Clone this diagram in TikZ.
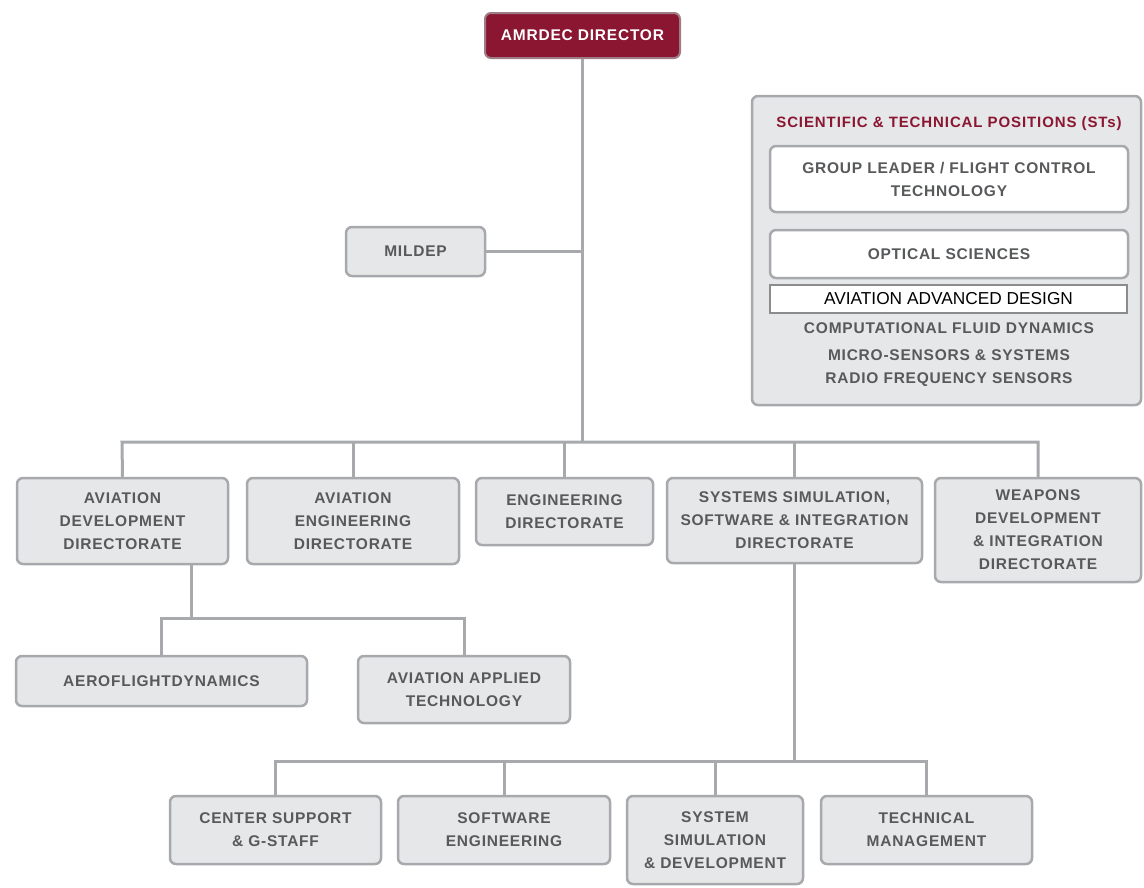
\documentclass[tikz,border=0pt]{standalone}
\usepackage{fontspec}
\setmainfont{Liberation Sans}
\newfontfamily\boxfont[LetterSpace=5]{Liberation Sans}
\newfontfamily\titlefont[LetterSpace=6]{Liberation Sans}
\definecolor{maroon}{RGB}{138,22,50}
\definecolor{boxfill}{RGB}{230,231,232}
\definecolor{boxedge}{RGB}{167,169,172}
\definecolor{txt}{RGB}{88,89,91}
\definecolor{aadedge}{RGB}{140,140,140}
\tikzset{
  orgbox/.style={draw=boxedge, fill=boxfill, line width=2.5pt, rounded corners=6pt,
    align=center, text=txt, font=\boxfont\fontsize{15.5}{23}\selectfont\bfseries, inner sep=2pt},
  whitebox/.style={orgbox, fill=white},
  dirbox/.style={draw=boxedge!70!maroon, fill=maroon, line width=2pt, rounded corners=6pt,
    text=white, font=\boxfont\fontsize{15.5}{23}\selectfont\bfseries},
  aadbox/.style={draw=aadedge, fill=white, line width=2.5pt, text=black,
    font=\fontsize{17.3}{20}\selectfont},
  sttext/.style={text=txt, font=\boxfont\fontsize{15.5}{23}\selectfont\bfseries},
  conn/.style={draw=boxedge, line width=3pt}
}
\begin{document}
\begin{tikzpicture}[x=1pt, y=-1pt]
\useasboundingbox (0,0) rectangle (1144,887);
% top
\node[dirbox, minimum width=195pt, minimum height=45pt] (dir) at (582.5,35.5) {AMRDEC DIRECTOR};
\node[orgbox, minimum width=139pt, minimum height=49pt] (mildep) at (415.5,251.5) {MILDEP};
% STs panel
\node[orgbox, minimum width=389pt, minimum height=309pt] (sts) at (946.5,250.5) {};
\node[sttext, text=maroon, font=\titlefont\fontsize{15}{18}\selectfont\bfseries] (ststitle) at (949,124) {SCIENTIFIC \& TECHNICAL POSITIONS (STs)};
\node[whitebox, minimum width=358pt, minimum height=66pt] (gl) at (949,179) {GROUP LEADER / FLIGHT CONTROL\\TECHNOLOGY};
\node[whitebox, minimum width=358pt, minimum height=48pt] (opt) at (949,254) {OPTICAL SCIENCES};
\node[aadbox, minimum width=357pt, minimum height=28pt, inner sep=0pt] (aad) at (948.5,299) {AVIATION ADVANCED DESIGN};
\node[sttext] (cfd) at (949,328) {COMPUTATIONAL FLUID DYNAMICS};
\node[sttext] (msens) at (949,355) {MICRO-SENSORS \& SYSTEMS};
\node[sttext] (rfs) at (949,380) {RADIO FREQUENCY SENSORS};
% second row
\node[orgbox, minimum width=211pt, minimum height=86pt] (avd) at (122.5,521) {AVIATION\\DEVELOPMENT\\DIRECTORATE};
\node[orgbox, minimum width=212pt, minimum height=86pt] (ave) at (353,521) {AVIATION\\ENGINEERING\\DIRECTORATE};
\node[orgbox, minimum width=177pt, minimum height=67pt] (eng) at (564.5,511.5) {ENGINEERING\\DIRECTORATE};
\node[orgbox, minimum width=255pt, minimum height=85pt] (sss) at (794.5,520.5) {SYSTEMS SIMULATION,\\SOFTWARE \& INTEGRATION\\DIRECTORATE};
\node[orgbox, minimum width=206pt, minimum height=104pt] (wpn) at (1038,530) {WEAPONS\\DEVELOPMENT\\\& INTEGRATION\\DIRECTORATE};
% third row
\node[orgbox, minimum width=291pt, minimum height=50pt] (aero) at (161.5,681) {AEROFLIGHTDYNAMICS};
\node[orgbox, minimum width=212pt, minimum height=67pt] (aat) at (464,689.5) {AVIATION APPLIED\\TECHNOLOGY};
% bottom row
\node[orgbox, minimum width=211pt, minimum height=68pt] (cs) at (275.5,830) {CENTER SUPPORT\\\& G-STAFF};
\node[orgbox, minimum width=212pt, minimum height=68pt] (sw) at (504,830) {SOFTWARE\\ENGINEERING};
\node[orgbox, minimum width=176pt, minimum height=88pt] (ssd) at (715,840) {SYSTEM\\SIMULATION\\\& DEVELOPMENT};
\node[orgbox, minimum width=211pt, minimum height=68pt] (tm) at (926.5,830) {TECHNICAL\\MANAGEMENT};
% bus coordinates
\coordinate (busL) at (122,442);
\coordinate (busR) at (1038,442);
\coordinate (subL) at (161.5,618);
\coordinate (subR) at (464,618);
\coordinate (botL) at (275.5,761);
\coordinate (botR) at (926.5,761);
\coordinate (avdout) at (191,564);
% connectors
\draw[conn] (dir.south) -- (dir.south |- busL);
\draw[conn] (mildep.east) -- (mildep.east -| dir.south);
\draw[conn, line join=miter] (avd.north) -- (busL) -- (busR) -- (wpn.north);
\draw[conn] (ave.north) -- (ave.north |- busL);
\draw[conn] (eng.north) -- (eng.north |- busL);
\draw[conn] (sss.north) -- (sss.north |- busL);
\draw[conn] (avdout) -- (avdout |- subL);
\draw[conn, line join=miter] (aero.north) -- (subL) -- (subR) -- (aat.north);
\draw[conn] (sss.south) -- (sss.south |- botL);
\draw[conn, line join=miter] (cs.north) -- (botL) -- (botR) -- (tm.north);
\draw[conn] (sw.north) -- (sw.north |- botL);
\draw[conn] (ssd.north) -- (ssd.north |- botL);
\end{tikzpicture}
\end{document}
